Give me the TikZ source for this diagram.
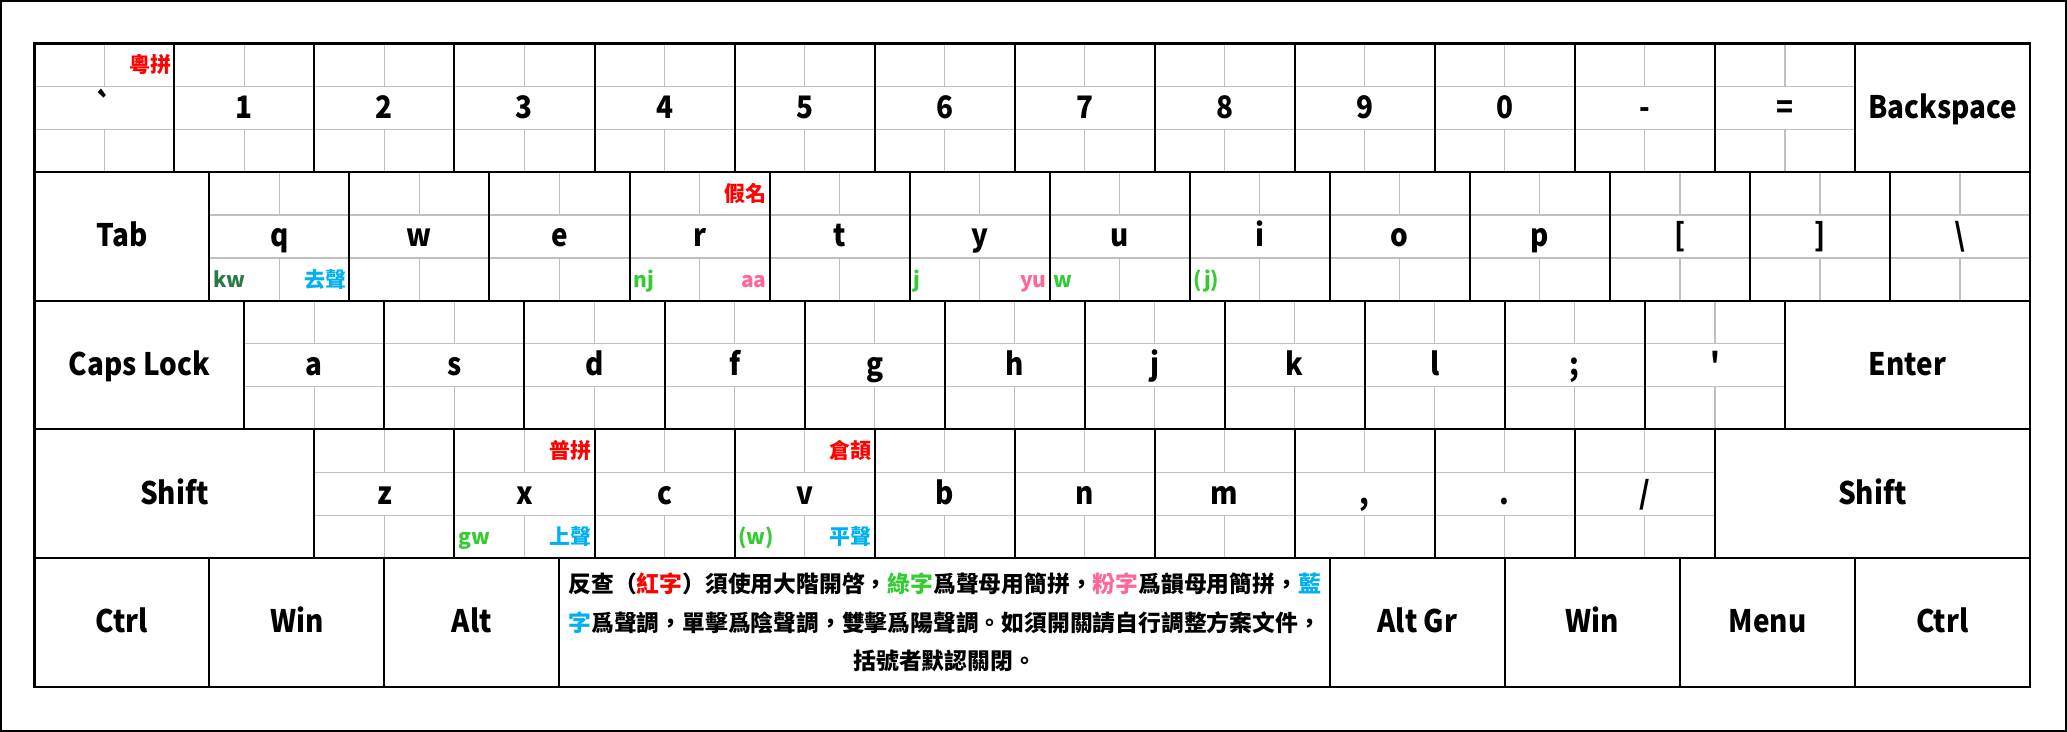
\documentclass[tikz,border=0pt]{standalone}
\usepackage{fontspec}
\setmainfont{Noto Sans CJK TC}[Ligatures=TeXOff]
\newfontfamily\keyfont{Noto Sans CJK TC}[FakeStretch=0.9, Ligatures=TeXOff]
\usetikzlibrary{calc}
\definecolor{cred}{HTML}{FF0000}
\definecolor{cgreen}{HTML}{33CC33}
\definecolor{cdkgreen}{HTML}{2A7A45}
\definecolor{cpink}{HTML}{FF6699}
\definecolor{cblue}{HTML}{00B0F0}
\definecolor{cgrid}{HTML}{C0C0C0}
\tikzset{
  keybox/.style={draw=black, line width=1pt, inner sep=0pt, outer sep=0pt,
    minimum height=64.33pt, text height=12pt, text depth=1.8pt,
    font=\keyfont\bfseries\fontsize{15.5}{18}\selectfont},
  gridline/.style={draw=cgrid, line width=0.6pt},
  tag/.style={inner sep=0pt, outer sep=0pt, font=\bfseries\fontsize{10.5}{12}\selectfont},
  note/.style={inner sep=0pt, align=center, font=\bfseries\fontsize{11.4}{19.25}\selectfont},
}
\newcommand{\kbgrid}[2]{%
  \pgfmathsetmacro{\kbgx}{34.3+(#1)*140.05}%
  \pgfmathsetmacro{\kbgy}{43.5+(#2)*128.66}%
  \draw[gridline] (\kbgx,\kbgy+42.887) -- ++(140.05,0)
                  (\kbgx,\kbgy+85.773) -- ++(140.05,0)
                  (\kbgx+70.025,\kbgy) -- ++(0,42.887)
                  (\kbgx+70.025,\kbgy+85.773) -- ++(0,42.887);}
\newcommand{\kbkey}[5]{%
  \pgfmathsetmacro{\kbcx}{34.3+((#2)+(#4)/2)*140.05}%
  \pgfmathsetmacro{\kbcy}{43.5+((#3)+0.5)*128.66}%
  \pgfmathsetmacro{\kbw}{(#4)*70.025}%
  \node[keybox, minimum width=\kbw pt] (#1) at (\kbcx,\kbcy) {#5};}
\newcommand{\tagTR}[4]{\node[tag, anchor=base east, text=#3] (#1) at ($(#2.north east)+(-3,29.4)$) {#4};}
\newcommand{\tagBL}[4]{\node[tag, anchor=base west, text=#3] (#1) at ($(#2.south west)+(4,-13.7)$) {#4};}
\newcommand{\tagBR}[4]{\node[tag, anchor=base east, text=#3] (#1) at ($(#2.south east)+(-3,-13.7)$) {#4};}
\begin{document}
\begin{tikzpicture}[x=0.5pt, y=-0.5pt]
\useasboundingbox (0,0) rectangle (2067,732);
\draw[line width=1pt] (1,1) rectangle (2066,731);
% grids
\foreach \c in {0,...,12} {\kbgrid{\c}{0}}
\foreach \c in {0,...,12} {\kbgrid{1.25+\c}{1}}
\foreach \c in {0,...,10} {\kbgrid{1.5+\c}{2}}
\foreach \c in {0,...,9} {\kbgrid{2+\c}{3}}
% row 0
\kbkey{kgrave}{0}{0}{1}{\char"60}
\kbkey{k1}{1}{0}{1}{1}
\kbkey{k2}{2}{0}{1}{2}
\kbkey{k3}{3}{0}{1}{3}
\kbkey{k4}{4}{0}{1}{4}
\kbkey{k5}{5}{0}{1}{5}
\kbkey{k6}{6}{0}{1}{6}
\kbkey{k7}{7}{0}{1}{7}
\kbkey{k8}{8}{0}{1}{8}
\kbkey{k9}{9}{0}{1}{9}
\kbkey{k0}{10}{0}{1}{0}
\kbkey{kminus}{11}{0}{1}{-}
\kbkey{kequal}{12}{0}{1}{=}
\kbkey{kback}{13}{0}{1.25}{Backspace}
% row 1
\kbkey{ktab}{0}{1}{1.25}{Tab}
\kbkey{kq}{1.25}{1}{1}{q}
\kbkey{kw}{2.25}{1}{1}{w}
\kbkey{ke}{3.25}{1}{1}{e}
\kbkey{kr}{4.25}{1}{1}{r}
\kbkey{kt}{5.25}{1}{1}{t}
\kbkey{ky}{6.25}{1}{1}{y}
\kbkey{ku}{7.25}{1}{1}{u}
\kbkey{ki}{8.25}{1}{1}{i}
\kbkey{ko}{9.25}{1}{1}{o}
\kbkey{kp}{10.25}{1}{1}{p}
\kbkey{klb}{11.25}{1}{1}{[}
\kbkey{krb}{12.25}{1}{1}{]}
\kbkey{kbs}{13.25}{1}{1}{\char"5C}
% row 2
\kbkey{kcaps}{0}{2}{1.5}{Caps Lock}
\kbkey{ka}{1.5}{2}{1}{a}
\kbkey{ks}{2.5}{2}{1}{s}
\kbkey{kd}{3.5}{2}{1}{d}
\kbkey{kf}{4.5}{2}{1}{f}
\kbkey{kg}{5.5}{2}{1}{g}
\kbkey{kh}{6.5}{2}{1}{h}
\kbkey{kj}{7.5}{2}{1}{j}
\kbkey{kk}{8.5}{2}{1}{k}
\kbkey{kl}{9.5}{2}{1}{l}
\kbkey{ksemi}{10.5}{2}{1}{;}
\kbkey{kquote}{11.5}{2}{1}{\char"27}
\kbkey{kenter}{12.5}{2}{1.75}{Enter}
% row 3
\kbkey{klshift}{0}{3}{2}{Shift}
\kbkey{kz}{2}{3}{1}{z}
\kbkey{kx}{3}{3}{1}{x}
\kbkey{kc}{4}{3}{1}{c}
\kbkey{kv}{5}{3}{1}{v}
\kbkey{kb}{6}{3}{1}{b}
\kbkey{kn}{7}{3}{1}{n}
\kbkey{km}{8}{3}{1}{m}
\kbkey{kcomma}{9}{3}{1}{,}
\kbkey{kdot}{10}{3}{1}{.}
\kbkey{kslash}{11}{3}{1}{/}
\kbkey{krshift}{12}{3}{2.25}{Shift}
% row 4
\kbkey{klctrl}{0}{4}{1.25}{Ctrl}
\kbkey{klwin}{1.25}{4}{1.25}{Win}
\kbkey{klalt}{2.5}{4}{1.25}{Alt}
\kbkey{kspace}{3.75}{4}{5.5}{}
\kbkey{kaltgr}{9.25}{4}{1.25}{Alt Gr}
\kbkey{krwin}{10.5}{4}{1.25}{Win}
\kbkey{kmenu}{11.75}{4}{1.25}{Menu}
\kbkey{krctrl}{13}{4}{1.25}{Ctrl}
% outer keyboard border
\draw[line width=1.3pt] (kgrave.north west) rectangle (krctrl.south east);
% note
\node[note] (note) at (kspace.center) {反查（{\color{cred}紅字}）須使用大階開啓，{\color{cgreen}綠字}爲聲母用簡拼，{\color{cpink}粉字}爲韻母用簡拼，{\color{cblue}藍}\\{\color{cblue}字}爲聲調，單擊爲陰聲調，雙擊爲陽聲調。如須開關請自行調整方案文件，\\括號者默認關閉。};
% tags
\tagTR{tgrave}{kgrave}{cred}{粵拼}
\tagBL{tqa}{kq}{cdkgreen}{kw}
\tagBR{tqb}{kq}{cblue}{去聲}
\tagTR{tra}{kr}{cred}{假名}
\tagBL{trb}{kr}{cgreen}{nj}
\tagBR{trc}{kr}{cpink}{aa}
\tagBL{tya}{ky}{cgreen}{j}
\tagBR{tyb}{ky}{cpink}{yu}
\tagBL{tua}{ku}{cgreen}{w}
\tagBL{tia}{ki}{cgreen}{(j)}
\tagTR{txa}{kx}{cred}{普拼}
\tagBL{txb}{kx}{cgreen}{gw}
\tagBR{txc}{kx}{cblue}{上聲}
\tagTR{tva}{kv}{cred}{倉頡}
\tagBL{tvb}{kv}{cgreen}{(w)}
\tagBR{tvc}{kv}{cblue}{平聲}
\end{tikzpicture}
\end{document}
